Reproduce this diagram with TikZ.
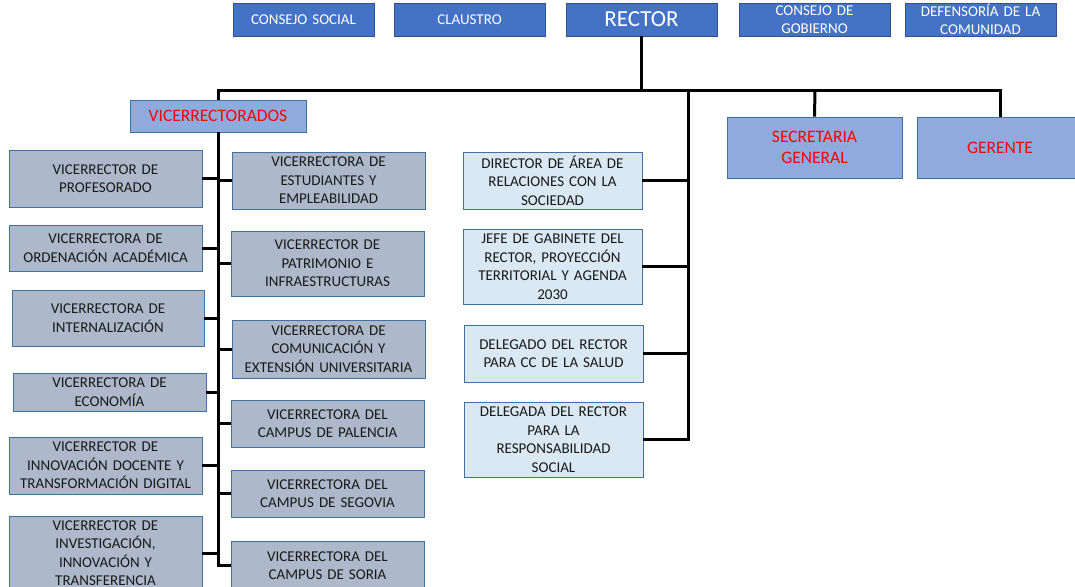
\documentclass[tikz,border=0pt]{standalone}
\usepackage{fontspec}
\setmainfont{Carlito}
\definecolor{topblue}{HTML}{4472C4}
\definecolor{topborder}{HTML}{2F528F}
\definecolor{midblue}{HTML}{8FAADC}
\definecolor{grayblue}{HTML}{ADB9CA}
\definecolor{lightblue}{HTML}{DAE8F4}
\definecolor{boxborder}{HTML}{41719C}
\definecolor{redtxt}{HTML}{FF0000}
\tikzset{
  base/.style={draw, line width=0.9pt, inner sep=1pt, align=center, anchor=center},
  topbox/.style={base, fill=topblue, draw=topborder, text=white, font=\fontsize{15}{18}\selectfont},
  redbox/.style={base, fill=midblue, draw=boxborder, text=redtxt},
  vicebox/.style={base, fill=grayblue, draw=boxborder, text=black!90, font=\fontsize{15}{18.5}\selectfont},
  delbox/.style={base, fill=lightblue, draw=boxborder, text=black!90, font=\fontsize{15}{18.5}\selectfont},
  conn/.style={line width=3pt, black}
}
\newcommand{\bx}[6]{% style, name, x1, y1, x2, y2 ... text follows
  \node[#1, minimum width=#5pt-#3pt, minimum height=#6pt-#4pt, text width=#5pt-#3pt-4pt] (#2) at ({(#3+#5)/2},{(#4+#6)/2})}
\begin{document}
\begin{tikzpicture}[x=1pt,y=-1pt]
\useasboundingbox[fill=white] (0,0) rectangle (1075,586);
\coordinate (busL) at (218,90);
\coordinate (busR) at (1000,90);
\coordinate (midtop) at (688,90);
\coordinate (sectop) at (815,90);

% top row
\bx{topbox}{cs}{233}{3}{374}{36} {CONSEJO SOCIAL};
\bx{topbox}{cl}{394}{3}{545}{36} {CLAUSTRO};
\bx{topbox, font=\fontsize{23}{26}\selectfont}{rector}{566}{3}{717}{36} {RECTOR};
\bx{topbox}{cg}{739}{3}{890}{36} {CONSEJO DE\\GOBIERNO};
\bx{topbox}{def}{905}{3}{1056}{36} {DEFENSORÍA DE LA\\COMUNIDAD};

% red boxes
\bx{redbox, font=\fontsize{17.5}{20}\selectfont}{vic}{130}{100}{306}{132} {VICERRECTORADOS};
\bx{redbox, font=\fontsize{17.5}{21.5}\selectfont}{sec}{727}{117}{902}{178} {SECRETARIA\\GENERAL};
\bx{redbox, font=\fontsize{17.5}{21.5}\selectfont}{ger}{917}{117}{1083}{178} {GERENTE};

% left column
\bx{vicebox}{prof}{9}{150}{202}{207} {VICERRECTOR DE\\PROFESORADO};
\bx{vicebox}{orde}{9}{225}{202}{271} {VICERRECTORA DE\\ORDENACIÓN ACADÉMICA};
\bx{vicebox}{inte}{12}{290}{204}{346} {VICERRECTORA DE\\INTERNALIZACIÓN};
\bx{vicebox}{econ}{13}{373}{206}{411} {VICERRECTORA DE\\ECONOMÍA};
\bx{vicebox}{inno}{9}{437}{202}{494} {VICERRECTOR DE\\INNOVACIÓN DOCENTE Y\\TRANSFORMACIÓN DIGITAL};
\bx{vicebox}{inve}{9}{516}{202}{590} {VICERRECTOR DE\\INVESTIGACIÓN,\\INNOVACIÓN Y\\TRANSFERENCIA};

% right vice column
\bx{vicebox}{estu}{232}{152}{425}{209} {VICERRECTORA DE\\ESTUDIANTES Y\\EMPLEABILIDAD};
\bx{vicebox}{patr}{231}{231}{424}{296} {VICERRECTOR DE\\PATRIMONIO E\\INFRAESTRUCTURAS};
\bx{vicebox}{comu}{232}{320}{425}{378} {VICERRECTORA DE\\COMUNICACIÓN Y\\EXTENSIÓN UNIVERSITARIA};
\bx{vicebox}{pale}{231}{400}{424}{447} {VICERRECTORA DEL\\CAMPUS DE PALENCIA};
\bx{vicebox}{sego}{231}{470}{424}{517} {VICERRECTORA DEL\\CAMPUS DE SEGOVIA};
\bx{vicebox}{sori}{231}{541}{424}{590} {VICERRECTORA DEL\\CAMPUS DE SORIA};

% middle column
\bx{delbox}{dire}{463}{152}{642}{209} {DIRECTOR DE ÁREA DE\\RELACIONES CON LA\\SOCIEDAD};
\bx{delbox}{jefe}{463}{229}{642}{304} {JEFE DE GABINETE DEL\\RECTOR, PROYECCIÓN\\TERRITORIAL Y AGENDA\\2030};
\bx{delbox}{dsal}{464}{325}{643}{382} {DELEGADO DEL RECTOR\\PARA CC DE LA SALUD};
\bx{delbox}{dres}{464}{402}{643}{477} {DELEGADA DEL RECTOR\\PARA LA\\RESPONSABILIDAD\\SOCIAL};

% connectors
\draw[conn] (rector.south) -- (rector.south |- busL);
\draw[conn] (vic.north) -- (busL) -- (busR) -- (ger.north);
\draw[conn] (sectop) -- (sec.north);
\draw[conn] (midtop) -- (midtop |- dres.east) -- (dres.east);
\foreach \n in {dire,jefe,dsal} \draw[conn] (\n.east) -- (\n.east -| midtop);
\draw[conn] (vic.south) -- (vic.south |- sori.west) -- (sori.west);
\foreach \n in {prof,orde,inte,econ,inno,inve} \draw[conn] (\n.east) -- (\n.east -| vic.south);
\foreach \n in {estu,patr,comu,pale,sego} \draw[conn] (\n.west) -- (\n.west -| vic.south);
\end{tikzpicture}
\end{document}
